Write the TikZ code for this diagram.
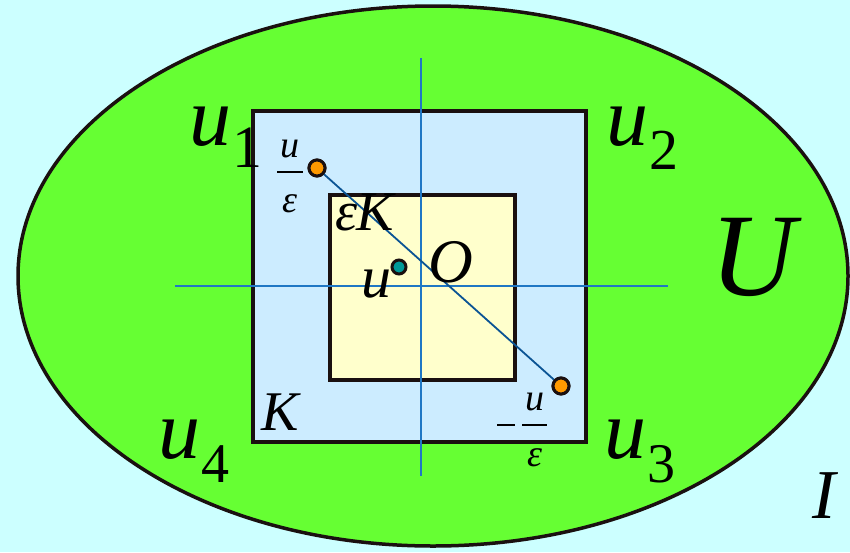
\documentclass[tikz,border=0pt]{standalone}
\usepackage{fontspec}
\setmainfont{Liberation Serif}[ItalicFont={Liberation Serif Italic}]
\definecolor{bgc}{HTML}{CCFFFF}
\definecolor{greenU}{HTML}{66FF33}
\definecolor{blueK}{HTML}{CCECFF}
\definecolor{yelK}{HTML}{FFFFCC}
\definecolor{axisc}{HTML}{1F77C4}
\definecolor{diagc}{HTML}{0B5494}
\definecolor{orangec}{HTML}{FF9900}
\definecolor{tealc}{HTML}{009999}
\definecolor{edgec}{HTML}{1A1010}
\newcommand{\fs}[1]{\fontsize{#1}{#1}\selectfont}
\begin{document}
\begin{tikzpicture}[x=1pt,y=-1pt,
  lbl/.style={inner sep=0pt,outer sep=0pt,anchor=base west,font=\itshape},
  sq/.style={draw=edgec,line width=3.5pt,inner sep=0pt,outer sep=0pt},
  axisline/.style={draw=axisc,line width=1.8pt},
  pt/.style={circle,draw=edgec,line width=3pt,inner sep=0pt,outer sep=0pt}]
\useasboundingbox (0,0) rectangle (850,552);
\fill[bgc] (0,0) rectangle (850,552);
% U set
\filldraw[fill=greenU,draw=edgec,line width=3.5pt] (433,276) ellipse [x radius=415, y radius=270];
% K and epsilon K
\node[sq,fill=blueK,minimum width=333pt,minimum height=331pt] (Ksq) at (419.5,276.5) {};
\node[sq,fill=yelK,minimum width=185pt,minimum height=185pt] (eKsq) at (422.5,287.5) {};
% axes
\coordinate (vt) at (421,58);
\coordinate (vb) at (421,476);
\coordinate (hl) at (175,286);
\coordinate (hr) at (668,286);
\draw[axisline] (vt) -- (vb);
\draw[axisline] (hl) -- (hr);
% points
\node[pt,fill=orangec,minimum size=16pt] (p1) at (317,168) {};
\node[pt,fill=orangec,minimum size=16pt] (p2) at (561,386) {};
\draw[diagc,line width=1.8pt] (p1.center) -- (p2.center);
\node[pt,fill=orangec,minimum size=16pt] at (p1) {};
\node[pt,fill=orangec,minimum size=16pt] at (p2) {};
\node[pt,fill=tealc,minimum size=14pt] (pu) at (399,267) {};
% corner labels
\node[lbl] (u1) at (189,145) {\fs{84}u\kern1pt\raisebox{-22pt}{\upshape\fs{60}1}};
\node[lbl] (u2) at (606,145) {\fs{84}u\kern1pt\raisebox{-24pt}{\upshape\fs{58}2}};
\node[lbl] (u3) at (604,458) {\fs{84}u\kern1pt\raisebox{-24pt}{\upshape\fs{56}3}};
\node[lbl] (u4) at (158,458) {\fs{84}u\kern1pt\raisebox{-24pt}{\upshape\fs{56}4}};
% other labels
\node[lbl] (Ulab) at (710,295) {\fs{118}U};
\node[lbl] (Ilab) at (812,518) {\fs{70}I};
\node[lbl] (Klab) at (261,430) {\fs{56}K};
\node[lbl] (eKlab) at (335,230) {\fs{56}ε\kern-1pt K};
\node[lbl] (Olab) at (428,282) {\fs{62}O};
\node[lbl] (ulab) at (361,297) {\fs{60}u};
% fractions
\node[inner sep=0pt,anchor=base] (fr1) at (290,172) {\fs{38}\itshape
  \rlap{\raisebox{15pt}{\makebox[26pt]{u}}}%
  \rlap{\raisebox{-1pt}{\rule{26pt}{2pt}}}%
  \raisebox{-40pt}{\makebox[26pt]{ε}}};
\node[inner sep=0pt,anchor=base west] (fr2) at (497,425) {\fs{38}\itshape
  \raisebox{-1pt}{\rule{18pt}{2pt}}\kern7pt%
  \rlap{\raisebox{15pt}{\makebox[25pt]{u}}}%
  \rlap{\raisebox{-1pt}{\rule{25pt}{2pt}}}%
  \raisebox{-41pt}{\makebox[25pt]{ε}}};
\end{tikzpicture}
\end{document}
